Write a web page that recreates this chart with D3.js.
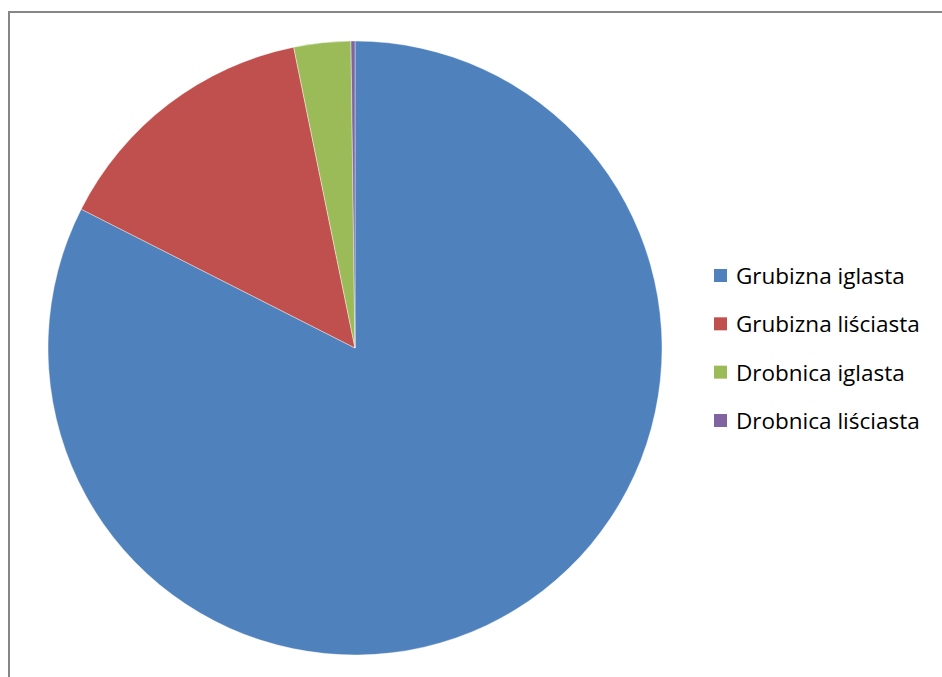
<!DOCTYPE html>
<html>
<head>
<meta charset="utf-8">
<script src="https://cdn.jsdelivr.net/npm/d3@7"></script>
<style>
  body { margin: 0; background: #fff; }
  svg { display: block; }
  .legend text { font-family: "Open Sans", "Noto Sans", sans-serif; font-size: 22.5px; fill: #000; }
</style>
</head>
<body>
<div id="chart"></div>
<script>
var categories = ["Grubizna iglasta", "Grubizna liściasta", "Drobnica iglasta", "Drobnica liściasta"]
var values = [82.47, 14.33, 2.99, 0.21]
var colors = ["#4F81BD", "#C0504D", "#9BBB59", "#8064A2"]

var width = 942,
    height = 677,
    cx = 355,
    cy = 348,
    radius = 307;

var svg = d3.select("#chart").append("svg")
    .attr("width", width)
    .attr("height", height);

// chart frame (right/bottom edges fall outside the window)
svg.append("rect")
    .attr("x", 9)
    .attr("y", 12)
    .attr("width", 960)
    .attr("height", 700)
    .style("fill", "none")
    .style("stroke", "#868686")
    .style("stroke-width", 2);

var data = categories.map(function(c, i) { return { name: c, value: values[i] }; });

var color = d3.scaleOrdinal().domain(categories).range(colors);

var pie = d3.pie()
    .sort(null)
    .value(function(d) { return d.value; });

var arc = d3.arc()
    .innerRadius(0)
    .outerRadius(radius);

var g = svg.append("g")
    .attr("transform", "translate(" + cx + "," + cy + ")");

g.selectAll(".slice")
    .data(pie(data))
    .enter().append("path")
      .attr("class", "slice")
      .attr("d", arc)
      .style("fill", function(d) { return color(d.data.name); })
      .style("stroke", "#fff")
      .style("stroke-width", 0.4);

/* Legend */
var rowY = d3.scalePoint()
    .domain(categories)
    .range([276, 421]);

var legend = svg.append("g")
    .attr("class", "legend")
    .selectAll("g")
    .data(categories)
    .enter().append("g")
      .attr("transform", function(d) { return "translate(714," + rowY(d) + ")"; });

legend.append("rect")
    .attr("x", 0)
    .attr("y", -7)
    .attr("width", 13)
    .attr("height", 13)
    .style("fill", function(d) { return color(d); });

legend.append("text")
    .attr("x", 22)
    .attr("y", 0)
    .attr("dy", "0.35em")
    .text(function(d) { return d; });
</script>
</body>
</html>
